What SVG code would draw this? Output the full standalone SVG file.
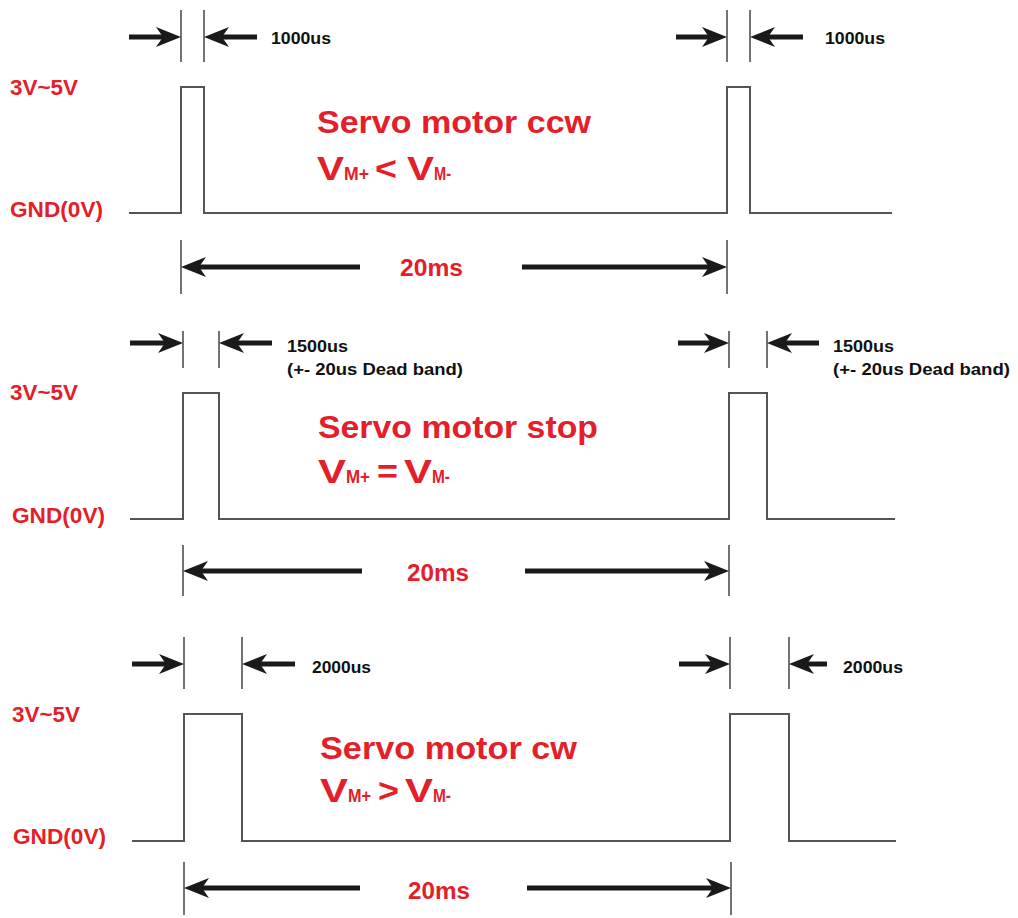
<svg xmlns="http://www.w3.org/2000/svg" xmlns:xlink="http://www.w3.org/1999/xlink" width="1018" height="918" viewBox="0 0 1018 918">
<style>
.bg{fill:#ffffff}
.wave{fill:none;stroke:#555;stroke-width:2}
.tick{stroke:#444;stroke-width:1.5}
.shaft{stroke:#1a1a1a;stroke-width:5}
.head{fill:#1a1a1a}
.lbl{font-family:"Liberation Sans",Arial,sans-serif;font-weight:bold;fill:#e3202a}
.blk{font-family:"Liberation Sans",Arial,sans-serif;font-weight:bold;fill:#111;font-size:17px}
.ttl{font-size:32px}
.v{font-size:33px}
.sub{font-size:18px}
.side{font-size:22px}
.ms{font-size:24px}
</style>
<defs>
<path id="hR" class="head" d="M0,0 L-25,-10 L-18,0 L-25,10 Z"/>
<path id="hL" class="head" d="M0,0 L25,-10 L18,0 L25,10 Z"/>
</defs>
<rect class="bg" x="0" y="0" width="1018" height="918"/>

<!-- Panel 1: ccw -->
<g id="panel-ccw">
  <text class="lbl side" x="10" y="95" textLength="68" lengthAdjust="spacingAndGlyphs">3V~5V</text>
  <text class="lbl side" x="10" y="217" textLength="93" lengthAdjust="spacingAndGlyphs">GND(0V)</text>
  <polyline class="wave" points="129,213 181,213 181,87 204,87 204,213 727,213 727,87 750,87 750,213 892,213"/>
  <text class="lbl ttl" x="317" y="133" textLength="274" lengthAdjust="spacingAndGlyphs">Servo motor ccw</text>
  <text class="lbl v" x="317" y="180" textLength="27" lengthAdjust="spacingAndGlyphs">V</text>
  <text class="lbl sub" x="344" y="180" textLength="25" lengthAdjust="spacingAndGlyphs">M+</text>
  <text class="lbl v" x="375" y="180" textLength="22" lengthAdjust="spacingAndGlyphs">&lt;</text>
  <text class="lbl v" x="407" y="180" textLength="27" lengthAdjust="spacingAndGlyphs">V</text>
  <text class="lbl sub" x="434" y="180" textLength="17" lengthAdjust="spacingAndGlyphs">M-</text>
</g>
<g id="width-1000us">
  <line class="tick" x1="181" y1="10" x2="181" y2="62"/>
  <line class="tick" x1="204" y1="10" x2="204" y2="62"/>
  <line class="tick" x1="727" y1="10" x2="727" y2="62"/>
  <line class="tick" x1="750" y1="10" x2="750" y2="62"/>
  <text class="blk" x="271" y="44" textLength="60" lengthAdjust="spacingAndGlyphs">1000us</text>
  <text class="blk" x="825" y="44" textLength="60" lengthAdjust="spacingAndGlyphs">1000us</text>
</g>
<g id="period-1">
  <line class="tick" x1="181" y1="240" x2="181" y2="294"/>
  <line class="tick" x1="727" y1="240" x2="727" y2="294"/>
  <text class="lbl ms" x="400" y="276" textLength="63" lengthAdjust="spacingAndGlyphs">20ms</text>
</g>

<!-- Panel 2: stop -->
<g id="panel-stop">
  <text class="lbl side" x="10" y="400" textLength="68" lengthAdjust="spacingAndGlyphs">3V~5V</text>
  <text class="lbl side" x="12" y="523" textLength="93" lengthAdjust="spacingAndGlyphs">GND(0V)</text>
  <polyline class="wave" points="130,519 183,519 183,393 219,393 219,519 729,519 729,393 767,393 767,519 895,519"/>
  <text class="lbl ttl" x="318" y="438" textLength="280" lengthAdjust="spacingAndGlyphs">Servo motor stop</text>
  <text class="lbl v" x="318" y="483" textLength="28" lengthAdjust="spacingAndGlyphs">V</text>
  <text class="lbl sub" x="346" y="483" textLength="24" lengthAdjust="spacingAndGlyphs">M+</text>
  <text class="lbl v" x="377" y="483" textLength="21" lengthAdjust="spacingAndGlyphs">=</text>
  <text class="lbl v" x="404" y="483" textLength="28" lengthAdjust="spacingAndGlyphs">V</text>
  <text class="lbl sub" x="432" y="483" textLength="18" lengthAdjust="spacingAndGlyphs">M-</text>
</g>
<g id="width-1500us">
  <line class="tick" x1="183" y1="331" x2="183" y2="368"/>
  <line class="tick" x1="219" y1="331" x2="219" y2="368"/>
  <line class="tick" x1="729" y1="331" x2="729" y2="368"/>
  <line class="tick" x1="767" y1="331" x2="767" y2="368"/>
  <text class="blk" x="287" y="352" textLength="61" lengthAdjust="spacingAndGlyphs">1500us</text>
  <text class="blk" x="287" y="375" textLength="176" lengthAdjust="spacingAndGlyphs">(+- 20us Dead band)</text>
  <text class="blk" x="833" y="352" textLength="61" lengthAdjust="spacingAndGlyphs">1500us</text>
  <text class="blk" x="833" y="375" textLength="177" lengthAdjust="spacingAndGlyphs">(+- 20us Dead band)</text>
</g>
<g id="period-2">
  <line class="tick" x1="183" y1="545" x2="183" y2="596"/>
  <line class="tick" x1="729" y1="545" x2="729" y2="596"/>
  <text class="lbl ms" x="407" y="581" textLength="62" lengthAdjust="spacingAndGlyphs">20ms</text>
</g>

<!-- Panel 3: cw -->
<g id="panel-cw">
  <text class="lbl side" x="12" y="722" textLength="68" lengthAdjust="spacingAndGlyphs">3V~5V</text>
  <text class="lbl side" x="13" y="844" textLength="93" lengthAdjust="spacingAndGlyphs">GND(0V)</text>
  <polyline class="wave" points="132,841 184,841 184,714 242,714 242,841 730,841 730,714 789,714 789,841 896,841"/>
  <text class="lbl ttl" x="320" y="759" textLength="257" lengthAdjust="spacingAndGlyphs">Servo motor cw</text>
  <text class="lbl v" x="320" y="802" textLength="28" lengthAdjust="spacingAndGlyphs">V</text>
  <text class="lbl sub" x="348" y="802" textLength="23" lengthAdjust="spacingAndGlyphs">M+</text>
  <text class="lbl v" x="378" y="802" textLength="21" lengthAdjust="spacingAndGlyphs">&gt;</text>
  <text class="lbl v" x="405" y="802" textLength="28" lengthAdjust="spacingAndGlyphs">V</text>
  <text class="lbl sub" x="433" y="802" textLength="18" lengthAdjust="spacingAndGlyphs">M-</text>
</g>
<g id="width-2000us">
  <line class="tick" x1="184" y1="637" x2="184" y2="689"/>
  <line class="tick" x1="242" y1="637" x2="242" y2="689"/>
  <line class="tick" x1="730" y1="637" x2="730" y2="689"/>
  <line class="tick" x1="789" y1="637" x2="789" y2="689"/>
  <text class="blk" x="312" y="673" textLength="59" lengthAdjust="spacingAndGlyphs">2000us</text>
  <text class="blk" x="843" y="673" textLength="60" lengthAdjust="spacingAndGlyphs">2000us</text>
</g>
<g id="period-3">
  <line class="tick" x1="184" y1="862" x2="184" y2="915"/>
  <line class="tick" x1="731" y1="862" x2="731" y2="915"/>
  <text class="lbl ms" x="408" y="899" textLength="62" lengthAdjust="spacingAndGlyphs">20ms</text>
</g>

<!-- Connectors (dimension arrows) -->
<g id="connectors">
  <line class="shaft" x1="129" y1="37" x2="163" y2="37"/><use xlink:href="#hR" x="181" y="37"/>
  <line class="shaft" x1="257" y1="37" x2="222" y2="37"/><use xlink:href="#hL" x="204" y="37"/>
  <line class="shaft" x1="676" y1="37" x2="709" y2="37"/><use xlink:href="#hR" x="727" y="37"/>
  <line class="shaft" x1="803" y1="37" x2="768" y2="37"/><use xlink:href="#hL" x="750" y="37"/>
  <line class="shaft" x1="360" y1="267" x2="199" y2="267"/><use xlink:href="#hL" x="181" y="267"/>
  <line class="shaft" x1="522" y1="267" x2="709" y2="267"/><use xlink:href="#hR" x="727" y="267"/>

  <line class="shaft" x1="130" y1="343" x2="165" y2="343"/><use xlink:href="#hR" x="183" y="343"/>
  <line class="shaft" x1="272" y1="343" x2="237" y2="343"/><use xlink:href="#hL" x="219" y="343"/>
  <line class="shaft" x1="678" y1="343" x2="711" y2="343"/><use xlink:href="#hR" x="729" y="343"/>
  <line class="shaft" x1="819" y1="343" x2="785" y2="343"/><use xlink:href="#hL" x="767" y="343"/>
  <line class="shaft" x1="362" y1="571" x2="201" y2="571"/><use xlink:href="#hL" x="183" y="571"/>
  <line class="shaft" x1="525" y1="571" x2="711" y2="571"/><use xlink:href="#hR" x="729" y="571"/>

  <line class="shaft" x1="132" y1="664" x2="166" y2="664"/><use xlink:href="#hR" x="184" y="664"/>
  <line class="shaft" x1="295" y1="664" x2="260" y2="664"/><use xlink:href="#hL" x="242" y="664"/>
  <line class="shaft" x1="679" y1="664" x2="712" y2="664"/><use xlink:href="#hR" x="730" y="664"/>
  <line class="shaft" x1="827" y1="664" x2="807" y2="664"/><use xlink:href="#hL" x="789" y="664"/>
  <line class="shaft" x1="360" y1="888" x2="202" y2="888"/><use xlink:href="#hL" x="184" y="888"/>
  <line class="shaft" x1="527" y1="888" x2="713" y2="888"/><use xlink:href="#hR" x="731" y="888"/>
</g>
</svg>
